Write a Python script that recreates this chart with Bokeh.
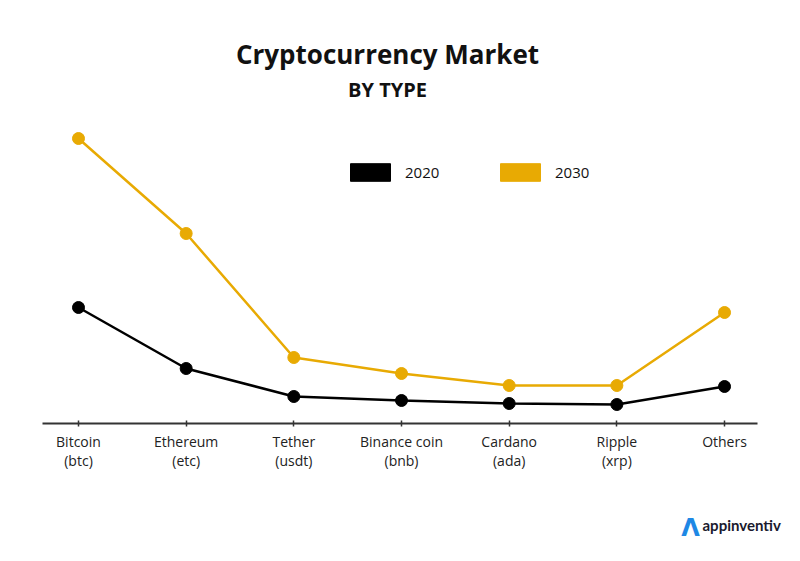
from bokeh.plotting import figure
from bokeh.models import Label, Legend, LegendItem, FixedTicker, Range1d, ColumnDataSource
from bokeh.embed import file_html
from bokeh.resources import INLINE

categories = ["Bitcoin\n(btc)", "Ethereum\n(etc)", "Tether\n(usdt)", "Binance coin\n(bnb)",
              "Cardano\n(ada)", "Ripple\n(xrp)", "Others"]
values_2020 = [11.6, 5.5, 2.7, 2.3, 2.0, 1.9, 3.7]
values_2030 = [28.5, 19.0, 6.6, 5.0, 3.8, 3.8, 11.1]
series_names = ["2020", "2030"]

BLACK = "#000000"
GOLD = "#E8AA03"
FONT = "Open Sans"
W, H = 784, 545

xs = list(range(len(categories)))
src = ColumnDataSource(dict(x=xs, y20=values_2020, y30=values_2030))

p = figure(width=W, height=H, output_backend="svg", toolbar_location=None,
           x_range=Range1d(-0.7244, 6.557), y_range=Range1d(-12.2, 42.3),
           y_axis_location=None, min_border=0, outline_line_color=None)
p.grid.visible = False
p.background_fill_color = "white"
p.border_fill_color = "white"

p.line("x", "y30", source=src, line_color=GOLD, line_width=2.5)
p.scatter("x", "y30", source=src, size=12, fill_color=GOLD, line_color=GOLD)
p.line("x", "y20", source=src, line_color=BLACK, line_width=2.5)
p.scatter("x", "y20", source=src, size=12, fill_color=BLACK, line_color=BLACK)

# legend swatches (renderers with no drawable data, used only for legend glyphs)
nan = float("nan")
empty = ColumnDataSource(dict(l=[nan], r=[nan], b=[nan], t=[nan]))
q20 = p.quad(left="l", right="r", bottom="b", top="t", source=empty, fill_color=BLACK, line_color=BLACK)
q30 = p.quad(left="l", right="r", bottom="b", top="t", source=empty, fill_color=GOLD, line_color=GOLD)

legend = Legend(items=[LegendItem(label=series_names[0], renderers=[q20]),
                       LegendItem(label=series_names[1], renderers=[q30])],
                orientation="horizontal", location=(345, H - 182.5),
                glyph_width=50, glyph_height=22, label_standoff=10, label_width=80,
                spacing=10, padding=0, margin=0, border_line_color=None,
                background_fill_alpha=0, label_text_font=FONT, label_text_font_size="15px",
                label_text_color="#111111")
p.add_layout(legend, "center")

ax = p.xaxis[0]
ax.fixed_location = 0
ax.bounds = (-0.334, 6.306)
ax.ticker = FixedTicker(ticks=xs)
ax.major_label_overrides = {i: c for i, c in enumerate(categories)}
ax.axis_line_color = "#333333"
ax.axis_line_width = 2
ax.major_tick_line_color = "#333333"
ax.major_tick_line_width = 1.5
ax.major_tick_in = 3
ax.major_tick_out = 3
ax.minor_tick_line_color = None
ax.major_label_standoff = 5
ax.major_label_text_line_height = 1.0
ax.major_label_text_font = FONT
ax.major_label_text_font_size = "14px"
ax.major_label_text_color = "#222222"

p.add_layout(Label(x=387, y=H - 53, x_units="screen", y_units="screen", text="Cryptocurrency Market",
                   text_align="center", text_baseline="alphabetic", text_font=FONT,
                   text_font_size="26px", text_font_style="bold", text_color="#111111"))
p.add_layout(Label(x=387, y=H - 89, x_units="screen", y_units="screen", text="BY TYPE",
                   text_align="center", text_baseline="alphabetic", text_font=FONT,
                   text_font_size="20px", text_font_style="bold", text_color="#111111"))
p.add_layout(Label(x=690, y=H - 527, x_units="screen", y_units="screen", text="Λ",
                   text_align="center", text_baseline="alphabetic", text_font="DejaVu Sans",
                   text_font_size="24px", text_font_style="bold", text_color="#1E88E5"))
p.add_layout(Label(x=702, y=H - 524, x_units="screen", y_units="screen", text="appinventiv",
                   text_align="left", text_baseline="alphabetic", text_font="Lato",
                   text_font_size="15px", text_font_style="bold", text_color="#1a1a2e"))

open("out.html", "w").write(file_html(p, INLINE))
